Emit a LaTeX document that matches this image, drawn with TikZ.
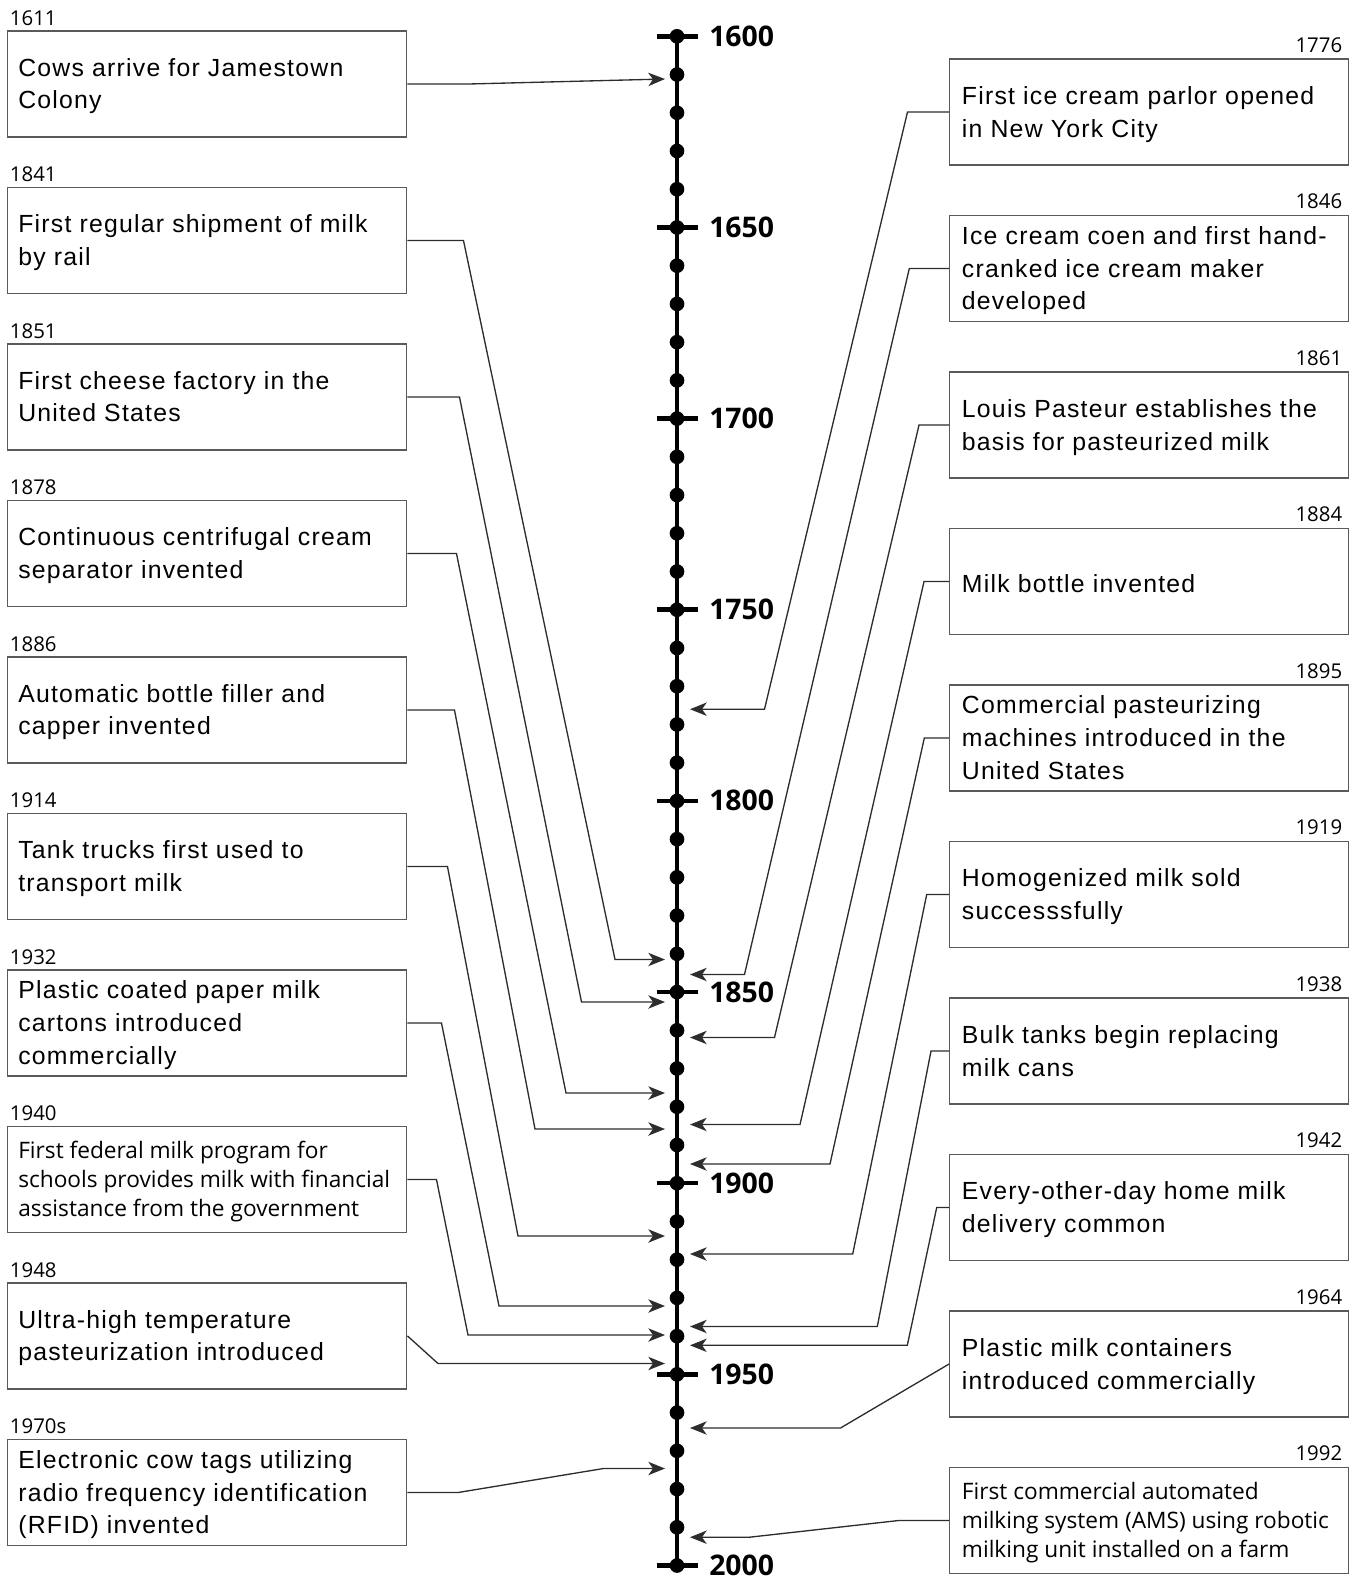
\documentclass[tikz,border=0pt]{standalone}
\usepackage{fontspec}
\setmainfont{Liberation Sans}[LetterSpace=5]
\newfontfamily\osfont{Open Sans}
\usetikzlibrary{arrows.meta}
\definecolor{boxline}{RGB}{90,90,90}
\definecolor{conline}{RGB}{45,45,45}
\newcommand\Yr[1]{(36.3+(#1-1600)*3.823)}
\newcommand\bodyfont{\fontsize{18.6pt}{24.6pt}\selectfont}
\newcommand\smallbody{\osfont\fontsize{17pt}{21.9pt}\selectfont}
\begin{document}
\begin{tikzpicture}[x=0.75pt,y=-0.75pt,
  evbox/.style={draw=boxline, line width=1.1pt, minimum width=299.25pt, minimum height=79.5pt, inner sep=0pt, anchor=north west},
  evtext/.style={anchor=west, inner sep=0pt, align=left, font=\bodyfont, execute at begin node=\strut, execute at end node=\strut},
  evsmall/.style={evtext, font=\smallbody},
  yrlab/.style={inner sep=0pt, font=\osfont\fontsize{15.3pt}{17pt}\selectfont},
  axlab/.style={inner sep=0pt, anchor=base west, font=\osfont\bfseries\fontsize{21.3pt}{23pt}\selectfont},
  axisline/.style={line width=3.4pt, black},
  conn/.style={draw=conline, line width=1pt, -{Stealth[length=12.5pt,width=10pt,inset=3.5pt]}}
]
\useasboundingbox (0,0) rectangle (1357,1577);

% ---- timeline ----
\draw[axisline] (677,{\Yr{1600}}) -- (677,{\Yr{2000}});
\foreach \yr in {1600,1610,...,2000} \fill (677,{\Yr{\yr}}) circle[radius=5.5pt];
\foreach \yr in {1600,1650,...,2000} {
  \draw[axisline] (656.5,{\Yr{\yr}}) -- (697.5,{\Yr{\yr}});
  \node[axlab] (ax\yr) at (709,{\Yr{\yr}+10}) {\yr};
}

% ---- left boxes ----
\node[evbox] (l1) at (7,30.2) {};
\node[evtext] (l1t) at ([xshift=8.25pt,yshift=-3.4pt]l1.west) {Cows arrive for Jamestown\\Colony};
\node[yrlab, anchor=base west] (l1y) at ([xshift=2pt,yshift=3.75pt]l1.north west) {1611};

\node[evbox] (l2) at (7,186.7) {};
\node[evtext] (l2t) at ([xshift=8.25pt,yshift=-3.4pt]l2.west) {First regular shipment of milk\\by rail};
\node[yrlab, anchor=base west] (l2y) at ([xshift=2pt,yshift=3.75pt]l2.north west) {1841};

\node[evbox] (l3) at (7,343.2) {};
\node[evtext] (l3t) at ([xshift=8.25pt,yshift=-3.4pt]l3.west) {First cheese factory in the\\United States};
\node[yrlab, anchor=base west] (l3y) at ([xshift=2pt,yshift=3.75pt]l3.north west) {1851};

\node[evbox] (l4) at (7,499.7) {};
\node[evtext] (l4t) at ([xshift=8.25pt,yshift=-3.4pt]l4.west) {Continuous centrifugal cream\\separator invented};
\node[yrlab, anchor=base west] (l4y) at ([xshift=2pt,yshift=3.75pt]l4.north west) {1878};

\node[evbox] (l5) at (7,656.2) {};
\node[evtext] (l5t) at ([xshift=8.25pt,yshift=-3.4pt]l5.west) {Automatic bottle filler and\\capper invented};
\node[yrlab, anchor=base west] (l5y) at ([xshift=2pt,yshift=3.75pt]l5.north west) {1886};

\node[evbox] (l6) at (7,812.7) {};
\node[evtext] (l6t) at ([xshift=8.25pt,yshift=-3.4pt]l6.west) {Tank trucks first used to\\transport milk};
\node[yrlab, anchor=base west] (l6y) at ([xshift=2pt,yshift=3.75pt]l6.north west) {1914};

\node[evbox] (l7) at (7,969.2) {};
\node[evtext] (l7t) at ([xshift=8.25pt,yshift=-3.4pt]l7.west) {Plastic coated paper milk\\cartons introduced\\commercially};
\node[yrlab, anchor=base west] (l7y) at ([xshift=2pt,yshift=3.75pt]l7.north west) {1932};

\node[evbox] (l8) at (7,1125.7) {};
\node[evsmall] (l8t) at ([xshift=8.25pt,yshift=-3pt]l8.west) {First federal milk program for\\schools provides milk with financial\\assistance from the government};
\node[yrlab, anchor=base west] (l8y) at ([xshift=2pt,yshift=3.75pt]l8.north west) {1940};

\node[evbox] (l9) at (7,1282.2) {};
\node[evtext] (l9t) at ([xshift=8.25pt,yshift=-3.4pt]l9.west) {Ultra-high temperature\\pasteurization introduced};
\node[yrlab, anchor=base west] (l9y) at ([xshift=2pt,yshift=3.75pt]l9.north west) {1948};

\node[evbox] (l10) at (7,1438.7) {};
\node[evtext] (l10t) at ([xshift=8.25pt,yshift=-3.4pt]l10.west) {Electronic cow tags utilizing\\radio frequency identification\\(RFID) invented};
\node[yrlab, anchor=base west] (l10y) at ([xshift=2pt,yshift=3.75pt]l10.north west) {1970s};

% ---- right boxes ----
\node[evbox] (r1) at (949,58.3) {};
\node[evtext] (r1t) at ([xshift=9.5pt,yshift=-3.4pt]r1.west) {First ice cream parlor opened\\in New York City};
\node[yrlab, anchor=base east] (r1y) at ([xshift=-5.25pt,yshift=4.5pt]r1.north east) {1776};

\node[evbox] (r2) at (949,214.8) {};
\node[evtext] (r2t) at ([xshift=9.5pt,yshift=-3.4pt]r2.west) {Ice cream coen and first hand-\\cranked ice cream maker\\developed};
\node[yrlab, anchor=base east] (r2y) at ([xshift=-5.25pt,yshift=4.5pt]r2.north east) {1846};

\node[evbox] (r3) at (949,371.3) {};
\node[evtext] (r3t) at ([xshift=9.5pt,yshift=-3.4pt]r3.west) {Louis Pasteur establishes the\\basis for pasteurized milk};
\node[yrlab, anchor=base east] (r3y) at ([xshift=-5.25pt,yshift=4.5pt]r3.north east) {1861};

\node[evbox] (r4) at (949,527.8) {};
\node[evtext] (r4t) at ([xshift=9.5pt,yshift=-3.4pt]r4.west) {Milk bottle invented};
\node[yrlab, anchor=base east] (r4y) at ([xshift=-5.25pt,yshift=4.5pt]r4.north east) {1884};

\node[evbox] (r5) at (949,684.3) {};
\node[evtext] (r5t) at ([xshift=9.5pt,yshift=-3.4pt]r5.west) {Commercial pasteurizing\\machines introduced in the\\United States};
\node[yrlab, anchor=base east] (r5y) at ([xshift=-5.25pt,yshift=4.5pt]r5.north east) {1895};

\node[evbox] (r6) at (949,840.8) {};
\node[evtext] (r6t) at ([xshift=9.5pt,yshift=-3.4pt]r6.west) {Homogenized milk sold\\successsfully};
\node[yrlab, anchor=base east] (r6y) at ([xshift=-5.25pt,yshift=4.5pt]r6.north east) {1919};

\node[evbox] (r7) at (949,997.3) {};
\node[evtext] (r7t) at ([xshift=9.5pt,yshift=-3.4pt]r7.west) {Bulk tanks begin replacing\\milk cans};
\node[yrlab, anchor=base east] (r7y) at ([xshift=-5.25pt,yshift=4.5pt]r7.north east) {1938};

\node[evbox] (r8) at (949,1153.8) {};
\node[evtext] (r8t) at ([xshift=9.5pt,yshift=-3.4pt]r8.west) {Every-other-day home milk\\delivery common};
\node[yrlab, anchor=base east] (r8y) at ([xshift=-5.25pt,yshift=4.5pt]r8.north east) {1942};

\node[evbox] (r9) at (949,1310.3) {};
\node[evtext] (r9t) at ([xshift=9.5pt,yshift=-3.4pt]r9.west) {Plastic milk containers\\introduced commercially};
\node[yrlab, anchor=base east] (r9y) at ([xshift=-5.25pt,yshift=4.5pt]r9.north east) {1964};

\node[evbox] (r10) at (949,1466.8) {};
\node[evsmall] (r10t) at ([xshift=9.5pt,yshift=-3pt]r10.west) {First commercial automated\\milking system (AMS) using robotic\\milking unit installed on a farm};
\node[yrlab, anchor=base east] (r10y) at ([xshift=-5.25pt,yshift=4.5pt]r10.north east) {1992};

% ---- arrow tips on the timeline ----
\coordinate (tl1) at (665,79);
\coordinate (tl2) at (665,959.5);
\coordinate (tl3) at (665,1002);
\coordinate (tl4) at (665,1093);
\coordinate (tl5) at (665,1129);
\coordinate (tl6) at (665,1236);
\coordinate (tl7) at (665,1306);
\coordinate (tl8) at (665,1335);
\coordinate (tl9) at (665,1363.5);
\coordinate (tl10) at (665,1468.5);
\coordinate (tr1) at (690,709.2);
\coordinate (tr2) at (690,974.5);
\coordinate (tr3) at (690,1037.5);
\coordinate (tr4) at (690,1124.5);
\coordinate (tr5) at (690,1164);
\coordinate (tr6) at (690,1254);
\coordinate (tr7) at (690,1326.5);
\coordinate (tr8) at (690,1345.3);
\coordinate (tr9) at (690,1428);
\coordinate (tr10) at (690,1537.2);

% ---- connectors ----
\draw[conn] (l1.east) -- ++(64,0) -- (tl1);
\draw[conn] (l2.east) -- ++(56,0) -- (615,959.5) -- (tl2);
\draw[conn] (l3.east) -- ++(52,0) -- (581.5,1002) -- (tl3);
\draw[conn] (l4.east) -- ++(49,0) -- (566,1093) -- (tl4);
\draw[conn] (l5.east) -- ++(47,0) -- (535,1129) -- (tl5);
\draw[conn] (l6.east) -- ++(40,0) -- (518,1236) -- (tl6);
\draw[conn] (l7.east) -- ++(34,0) -- (499,1306) -- (tl7);
\draw[conn] (l8.east) -- ++(29,0) -- (468,1335) -- (tl8);
\draw[conn] (l9.east) -- (438,1363.5) -- (tl9);
\draw[conn] (l10.east) -- ++(51,0) -- (603.5,1468.5) -- (tl10);

\draw[conn] (r1.west) -- ++(-41.5,0) -- (764.5,709.2) -- (tr1);
\draw[conn] (r2.west) -- ++(-39.7,0) -- (744.5,974.5) -- (tr2);
\draw[conn] (r3.west) -- ++(-30,0) -- (774.5,1037.5) -- (tr3);
\draw[conn] (r4.west) -- ++(-25,0) -- (800,1124.5) -- (tr4);
\draw[conn] (r5.west) -- ++(-24.7,0) -- (830,1164) -- (tr5);
\draw[conn] (r6.west) -- ++(-22.3,0) -- (852.7,1254) -- (tr6);
\draw[conn] (r7.west) -- ++(-18,0) -- (877.3,1326.5) -- (tr7);
\draw[conn] (r8.west) -- ++(-12.3,0) -- (907.3,1345.3) -- (tr8);
\draw[conn] (r9.west) -- (840.5,1428) -- (tr9);
\draw[conn] (r10.west) -- ++(-50.7,0) -- (749.5,1537.2) -- (tr10);
\end{tikzpicture}
\end{document}
